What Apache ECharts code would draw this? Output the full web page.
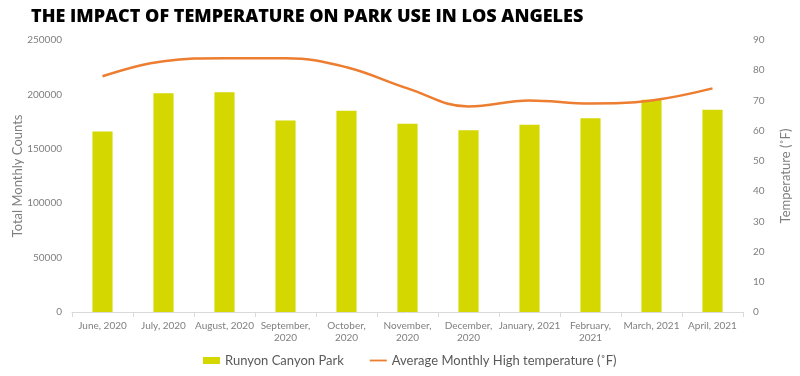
<!DOCTYPE html>
<html>
<head>
<meta charset="utf-8">
<script src="https://cdn.jsdelivr.net/npm/echarts@6/dist/echarts.min.js"></script>
<style>
html,body{margin:0;padding:0;background:#fff;}
#c{width:800px;height:376px;}
</style>
</head>
<body>
<div id="c"></div>
<script>
const categories = ["June, 2020","July, 2020","August, 2020","September,\n2020","October,\n2020","November,\n2020","December,\n2020","January, 2021","February,\n2021","March, 2021","April, 2021"];
const parkCounts = [166000, 201000, 202000, 176000, 185000, 173000, 167000, 172000, 178000, 195000, 186000];
const avgHighTemp = [78, 83, 84, 84, 81, 74, 68, 70, 69, 70, 74];
const leftTicks = {min:0, max:250000, interval:50000};
const rightTicks = {min:0, max:90, interval:10};

const chart = echarts.init(document.getElementById('c'));
const labelColor = '#7f7f7f';
const font = 'Lato, "Noto Sans", sans-serif';
chart.setOption({
  animation:false,
  title:{
    text:'THE IMPACT OF TEMPERATURE ON PARK USE IN LOS ANGELES',
    left:26, top:3,
    textStyle:{fontFamily:'"Open Sans", Lato, sans-serif', fontWeight:800, fontSize:18, color:'#000'}
  },
  legend:{
    bottom:4, left:198, itemGap:26, itemWidth:17, itemHeight:7,
    textStyle:{fontFamily:font, fontSize:13, color:'#595959'},
    data:[
      {name:'Runyon Canyon Park', icon:'rect'},
      {name:'Average Monthly High temperature (˚F)', icon:'path://M0,0M17,7M0,2.6H17V4.4H0Z'}
    ]
  },
  grid:{left:72, right:57, top:40, bottom:64, outerBoundsMode:'none', containLabel:false},
  xAxis:{
    type:'category', data:categories,
    axisLine:{lineStyle:{color:'#d9d9d9'}},
    axisTick:{show:true, lineStyle:{color:'#d9d9d9'}, length:5},
    axisLabel:{color:labelColor, fontFamily:font, fontSize:10, interval:0, margin:8, lineHeight:12}
  },
  yAxis:[{
    type:'value', min:leftTicks.min, max:leftTicks.max, interval:leftTicks.interval,
    name:'Total Monthly Counts', nameLocation:'middle', nameGap:48, nameMoveOverlap:false,
    nameTextStyle:{color:labelColor, fontFamily:font, fontSize:13},
    axisLine:{show:false}, axisTick:{show:false}, splitLine:{show:false},
    axisLabel:{color:labelColor, fontFamily:font, fontSize:10, margin:10, formatter:function(v){return String(v);}}
  },{
    type:'value', min:rightTicks.min, max:rightTicks.max, interval:rightTicks.interval,
    name:'Temperature (˚F)', nameLocation:'middle', nameGap:36, nameRotate:90, nameMoveOverlap:false,
    nameTextStyle:{color:labelColor, fontFamily:font, fontSize:13},
    axisLine:{show:false}, axisTick:{show:false}, splitLine:{show:false},
    axisLabel:{color:labelColor, fontFamily:font, fontSize:10, margin:10}
  }],
  series:[{
    name:'Runyon Canyon Park', type:'bar', data:parkCounts, yAxisIndex:0,
    barWidth:'33%', itemStyle:{color:'#d4d700'}
  },{
    name:'Average Monthly High temperature (˚F)', type:'line', data:avgHighTemp, yAxisIndex:1,
    smooth:0.4, symbol:'none', lineStyle:{color:'#ed7d31', width:2.5}, itemStyle:{color:'#ed7d31'}
  }]
});
</script>
</body>
</html>
